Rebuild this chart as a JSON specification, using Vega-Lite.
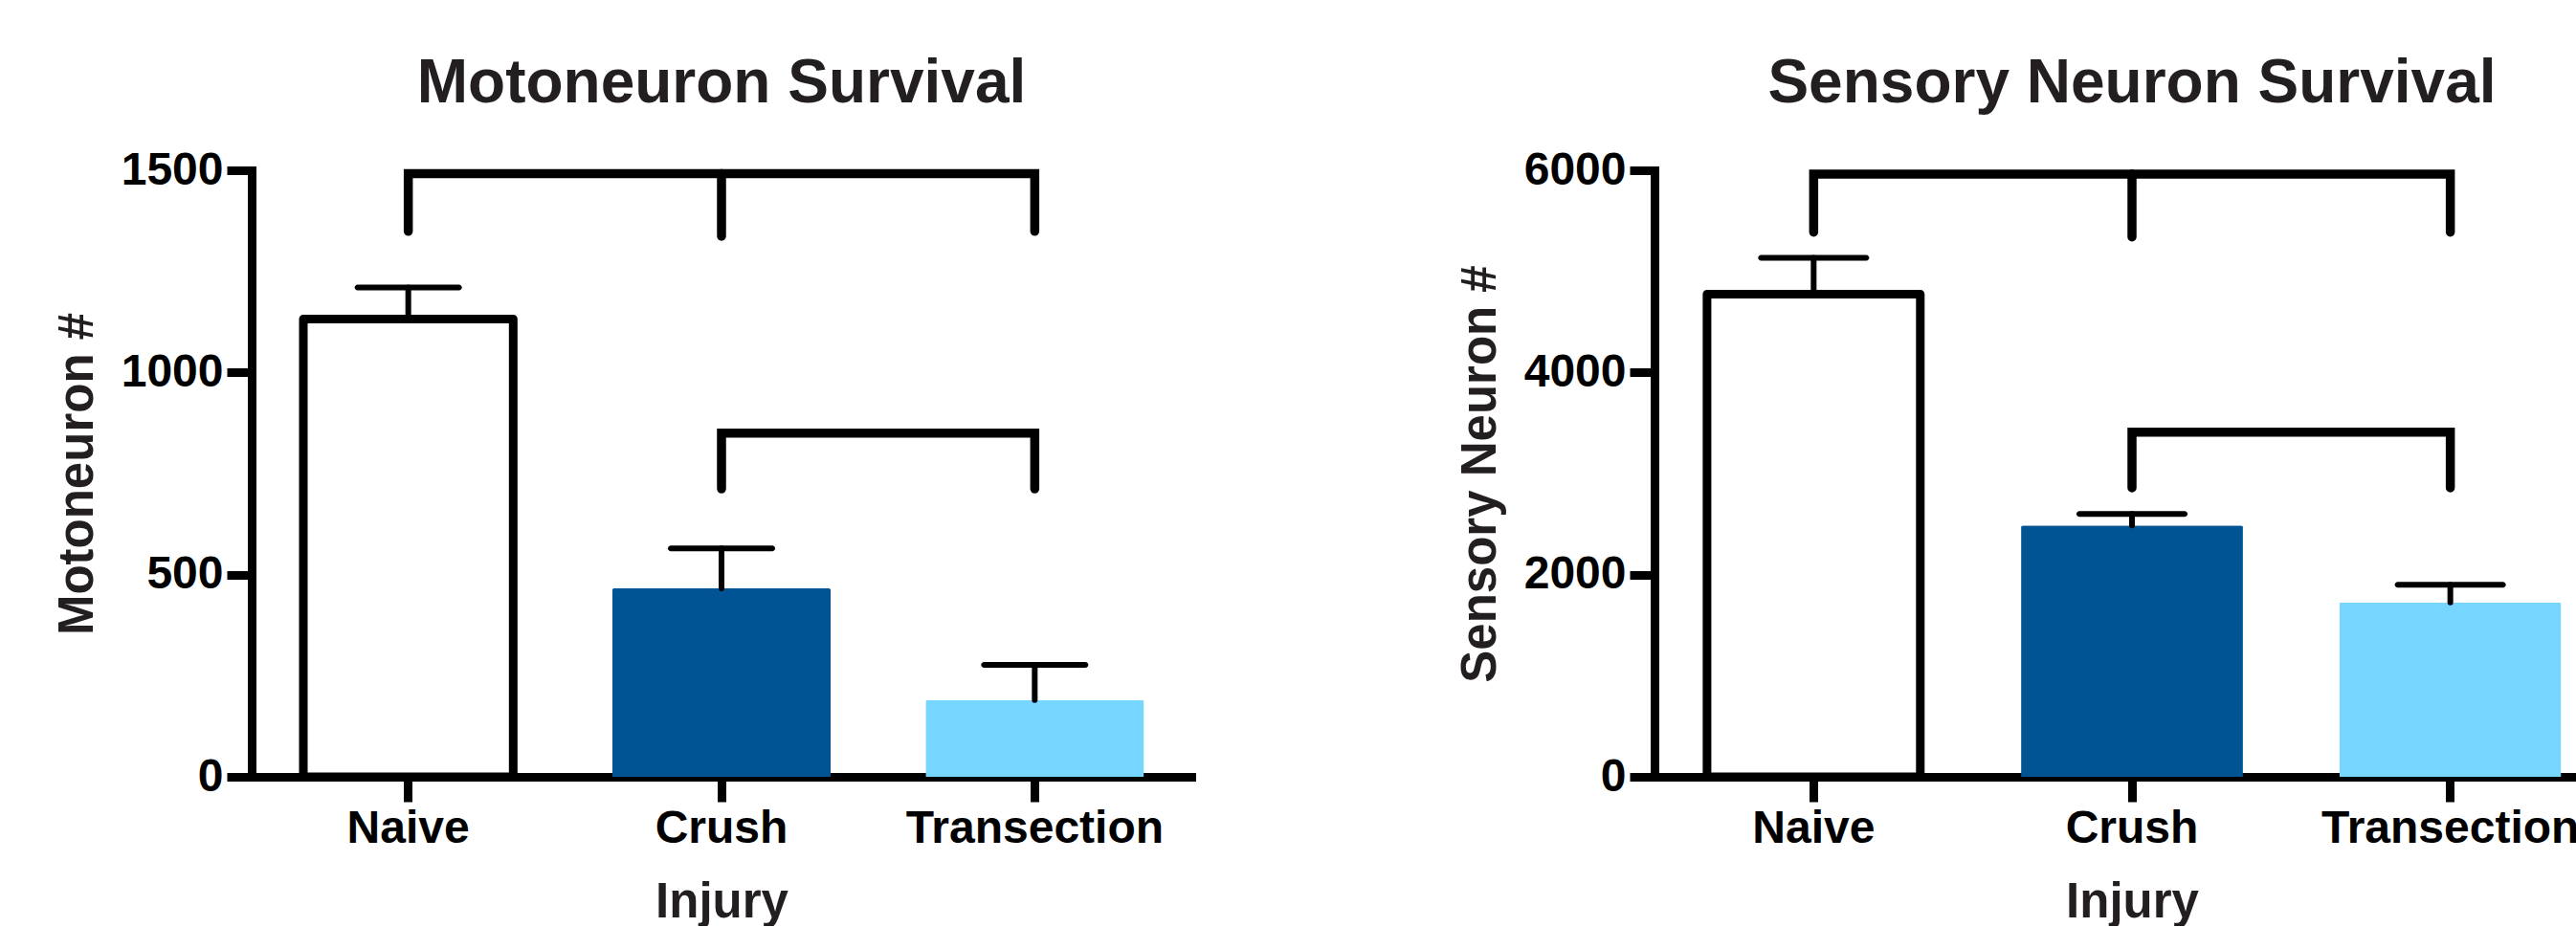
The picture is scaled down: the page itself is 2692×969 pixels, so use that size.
{
  "$schema": "https://vega.github.io/schema/vega-lite/v6.json",
  "background": "white",
  "padding": {"left": 55, "top": 56, "right": 0, "bottom": 0},
  "spacing": 276,
  "config": {
    "view": {"stroke": null},
    "font": "Liberation Sans",
    "axis": {
      "domainColor": "#000000", "domainWidth": 9, "domainCap": "square",
      "tickColor": "#000000", "tickWidth": 9, "tickSize": 26,
      "labelFont": "Liberation Sans", "labelFontSize": 48, "labelFontWeight": "bold", "labelColor": "#000000", "labelPadding": 4, "labelLimit": 0,
      "titleFont": "Liberation Sans", "titleFontSize": 51, "titleFontWeight": "bold", "titleColor": "#231F20",
      "grid": false
    },
    "axisX": {"labelAngle": 0, "titlePadding": 28},
    "axisY": {"titlePadding": 19, "format": "d"},
    "title": {"font": "Liberation Sans", "fontSize": 64, "fontWeight": "bold", "color": "#231F20", "offset": 34, "anchor": "middle"}
  },
  "datasets": {
    "moto": [
      {"injury": "Naive", "mean": 1132, "upper": 1210},
      {"injury": "Crush", "mean": 466, "upper": 565},
      {"injury": "Transection", "mean": 190, "upper": 277}
    ],
    "sens": [
      {"injury": "Naive", "mean": 4775, "upper": 5133},
      {"injury": "Crush", "mean": 2487, "upper": 2600},
      {"injury": "Transection", "mean": 1724, "upper": 1900}
    ],
    "mbr": [
      {"path": "a", "seq": 1, "injury": "Naive", "val": 1349},
      {"path": "a", "seq": 2, "injury": "Naive", "val": 1492},
      {"path": "a", "seq": 3, "injury": "Transection", "val": 1492},
      {"path": "a", "seq": 4, "injury": "Transection", "val": 1349},
      {"path": "b", "seq": 1, "injury": "Crush", "val": 1492},
      {"path": "b", "seq": 2, "injury": "Crush", "val": 1337},
      {"path": "c", "seq": 1, "injury": "Crush", "val": 712},
      {"path": "c", "seq": 2, "injury": "Crush", "val": 850},
      {"path": "c", "seq": 3, "injury": "Transection", "val": 850},
      {"path": "c", "seq": 4, "injury": "Transection", "val": 712}
    ],
    "sbr": [
      {"path": "a", "seq": 1, "injury": "Naive", "val": 5388},
      {"path": "a", "seq": 2, "injury": "Naive", "val": 5962},
      {"path": "a", "seq": 3, "injury": "Transection", "val": 5962},
      {"path": "a", "seq": 4, "injury": "Transection", "val": 5388},
      {"path": "b", "seq": 1, "injury": "Crush", "val": 5962},
      {"path": "b", "seq": 2, "injury": "Crush", "val": 5341},
      {"path": "c", "seq": 1, "injury": "Crush", "val": 2858},
      {"path": "c", "seq": 2, "injury": "Crush", "val": 3410},
      {"path": "c", "seq": 3, "injury": "Transection", "val": 3410},
      {"path": "c", "seq": 4, "injury": "Transection", "val": 2858}
    ]
  },
  "hconcat": [
    {
      "width": 982, "height": 634,
      "title": "Motoneuron Survival",
      "encoding": {
        "x": {"field": "injury", "type": "nominal", "scale": {"domain": ["Naive", "Crush", "Transection"], "paddingInner": 0, "paddingOuter": 0}, "axis": {"title": "Injury"}}
      },
      "layer": [
        {
          "data": {"name": "moto"},
          "transform": [{"filter": "datum.injury !== 'Naive'"}],
          "mark": {"type": "bar", "width": {"band": 0.697}, "cornerRadiusTopLeft": 2, "cornerRadiusTopRight": 2},
          "encoding": {
            "y": {"field": "mean", "type": "quantitative", "scale": {"domain": [0, 1500], "nice": false}, "axis": {"title": "Motoneuron #", "values": [0, 500, 1000, 1500]}},
            "color": {"field": "injury", "type": "nominal", "scale": {"domain": ["Naive", "Crush", "Transection"], "range": ["#ffffff", "#005493", "#76D6FF"]}, "legend": null}
          }
        },
        {
          "data": {"name": "moto"},
          "transform": [{"filter": "datum.injury === 'Naive'"}],
          "mark": {"type": "bar", "width": {"band": 0.67}, "fill": "#ffffff", "stroke": "#000000", "strokeWidth": 9, "strokeJoin": "round"},
          "encoding": {"y": {"field": "mean", "type": "quantitative"}}
        },
        {
          "data": {"name": "moto"},
          "mark": {"type": "rule", "strokeWidth": 6, "strokeCap": "round", "color": "#000000"},
          "encoding": {"y": {"field": "mean", "type": "quantitative"}, "y2": {"field": "upper"}}
        },
        {
          "data": {"name": "moto"},
          "mark": {"type": "tick", "orient": "horizontal", "size": 112, "thickness": 6, "cornerRadius": 3, "color": "#000000", "opacity": 1},
          "encoding": {"y": {"field": "upper", "type": "quantitative"}}
        },
        {
          "data": {"name": "mbr"},
          "mark": {"type": "line", "strokeWidth": 9.5, "strokeCap": "round", "strokeJoin": "miter", "color": "#000000"},
          "encoding": {"y": {"field": "val", "type": "quantitative"}, "detail": {"field": "path"}, "order": {"field": "seq", "type": "quantitative"}}
        }
      ]
    },
    {
      "width": 998, "height": 634,
      "title": "Sensory Neuron Survival",
      "encoding": {
        "x": {"field": "injury", "type": "nominal", "scale": {"domain": ["Naive", "Crush", "Transection"], "paddingInner": 0, "paddingOuter": 0}, "axis": {"title": "Injury"}}
      },
      "layer": [
        {
          "data": {"name": "sens"},
          "transform": [{"filter": "datum.injury !== 'Naive'"}],
          "mark": {"type": "bar", "width": {"band": 0.697}, "cornerRadiusTopLeft": 2, "cornerRadiusTopRight": 2},
          "encoding": {
            "y": {"field": "mean", "type": "quantitative", "scale": {"domain": [0, 6000], "nice": false}, "axis": {"title": "Sensory Neuron #", "values": [0, 2000, 4000, 6000]}},
            "color": {"field": "injury", "type": "nominal", "scale": {"domain": ["Naive", "Crush", "Transection"], "range": ["#ffffff", "#005493", "#76D6FF"]}, "legend": null}
          }
        },
        {
          "data": {"name": "sens"},
          "transform": [{"filter": "datum.injury === 'Naive'"}],
          "mark": {"type": "bar", "width": {"band": 0.67}, "fill": "#ffffff", "stroke": "#000000", "strokeWidth": 9, "strokeJoin": "round"},
          "encoding": {"y": {"field": "mean", "type": "quantitative"}}
        },
        {
          "data": {"name": "sens"},
          "mark": {"type": "rule", "strokeWidth": 6, "strokeCap": "round", "color": "#000000"},
          "encoding": {"y": {"field": "mean", "type": "quantitative"}, "y2": {"field": "upper"}}
        },
        {
          "data": {"name": "sens"},
          "mark": {"type": "tick", "orient": "horizontal", "size": 116, "thickness": 6, "cornerRadius": 3, "color": "#000000", "opacity": 1},
          "encoding": {"y": {"field": "upper", "type": "quantitative"}}
        },
        {
          "data": {"name": "sbr"},
          "mark": {"type": "line", "strokeWidth": 9.5, "strokeCap": "round", "strokeJoin": "miter", "color": "#000000"},
          "encoding": {"y": {"field": "val", "type": "quantitative"}, "detail": {"field": "path"}, "order": {"field": "seq", "type": "quantitative"}}
        }
      ]
    }
  ]
}
